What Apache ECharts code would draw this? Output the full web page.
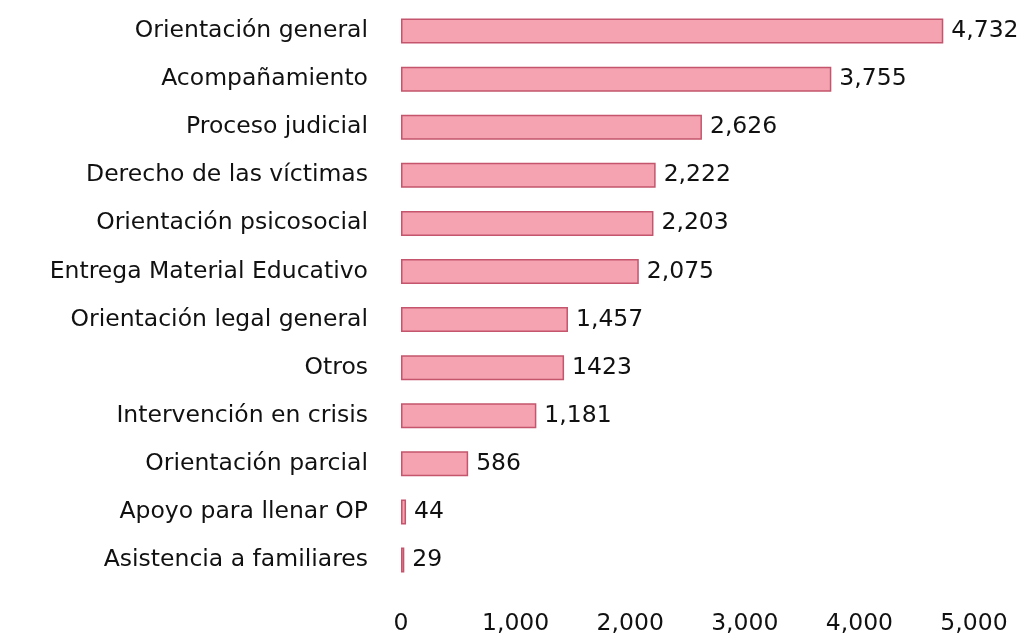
<!DOCTYPE html>
<html><head><meta charset="utf-8">
<script src="https://cdn.jsdelivr.net/npm/echarts@6/dist/echarts.min.js"></script>
<style>html,body{margin:0;padding:0;background:#fff}#c{width:1021px;height:641px}</style>
</head><body><div id="c"></div>
<script>
const categories = ["Orientación general","Acompañamiento","Proceso judicial","Derecho de las víctimas","Orientación psicosocial","Entrega Material Educativo","Orientación legal general","Otros","Intervención en crisis","Orientación parcial","Apoyo para llenar OP","Asistencia a familiares"];
const values = [4732,3755,2626,2222,2203,2075,1457,1423,1181,586,44,29];
const valueLabels = ["4,732","3,755","2,626","2,222","2,203","2,075","1,457","1423","1,181","586","44","29"];
const xTicks = [0,1000,2000,3000,4000,5000];

const FONT = "DejaVu Sans";
const chart = echarts.init(document.getElementById('c'));
chart.setOption({
  animation:false,
  backgroundColor:'#fff',
  grid:{left:401,right:47,top:7,bottom:57,containLabel:false},
  xAxis:{type:'value',min:xTicks[0],max:xTicks[xTicks.length-1],interval:1000,
    axisLine:{show:false},axisTick:{show:false},splitLine:{show:false},
    axisLabel:{margin:28,color:'#111',fontFamily:FONT,fontSize:23.5,
      formatter:v=>v.toLocaleString('en-US')}},
  yAxis:{type:'category',inverse:true,data:categories,
    axisLine:{show:false},axisTick:{show:false},
    axisLabel:{margin:33,color:'#111',fontFamily:FONT,fontSize:23.5}},
  series:[{type:'bar',data:values,barWidth:25,
    itemStyle:{color:'#f5a3b0',borderColor:'#c4556c',borderWidth:1.5},
    label:{show:true,position:'right',distance:8,color:'#111',fontFamily:FONT,fontSize:23.5,
      formatter:p=>valueLabels[p.dataIndex]}}]
});
</script></body></html>
